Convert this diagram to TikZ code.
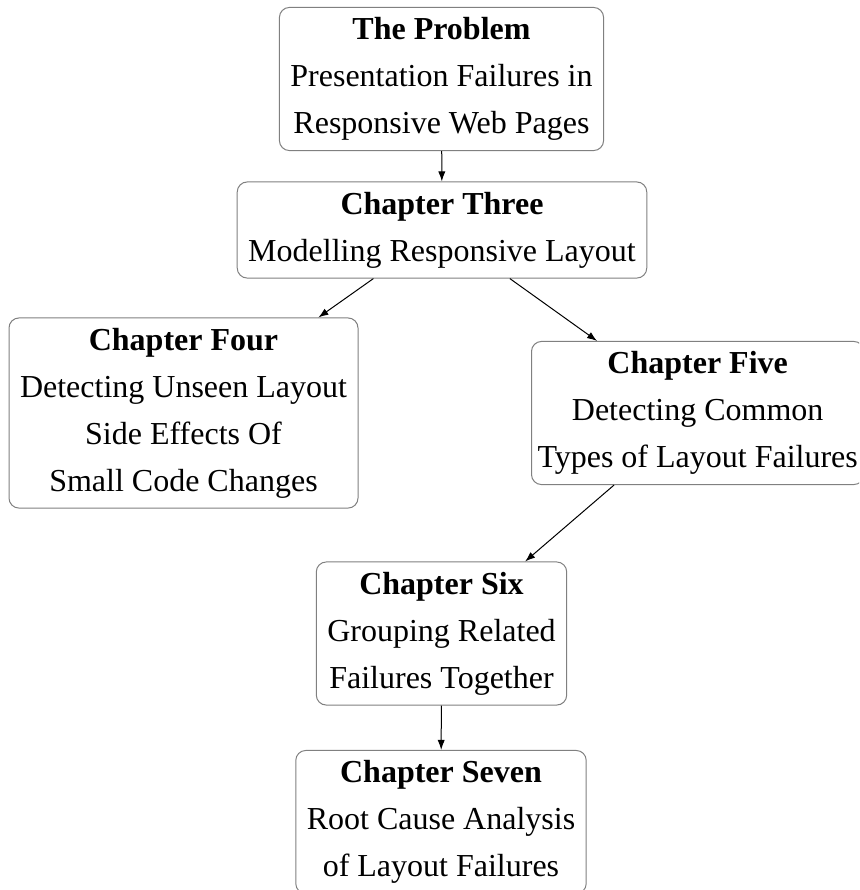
\documentclass[tikz,border=0pt]{standalone}
\usepackage{fontspec}
\setmainfont{Liberation Serif}
\usetikzlibrary{arrows.meta}

\tikzset{
  chapbox/.style={draw=black!50, line width=0.5pt, rounded corners=5pt,
    align=center, inner xsep=5.5pt, inner ysep=5pt,
    font=\fontsize{16}{23.5}\selectfont},
  flow/.style={-{Latex[length=5pt,width=3.6pt]}, line width=0.5pt, black}
}

\begin{document}
\begin{tikzpicture}[x=0.5pt, y=-0.5pt]
  \useasboundingbox (0,0) rectangle (859,890);
  \clip (0,0) rectangle (859,890);

  \node[chapbox] (prob)  at (441.5,79)   {\textbf{The Problem}\\Presentation Failures in\\Responsive Web Pages};
  \node[chapbox] (three) at (442,230)    {\textbf{Chapter Three}\\Modelling Responsive Layout};
  \node[chapbox] (four)  at (183.5,413)  {\textbf{Chapter Four}\\Detecting Unseen Layout\\Side Effects Of\\Small Code Changes};
  \node[chapbox, anchor=west, inner xsep=3pt] (five) at (531,413) {\textbf{Chapter Five}\\Detecting Common\\Types of Layout Failures};
  \node[chapbox] (six)   at (441.5,633.5) {\textbf{Chapter Six}\\Grouping Related\\Failures Together};
  \node[chapbox] (seven) at (441,822)    {\textbf{Chapter Seven}\\Root Cause Analysis\\of Layout Failures};

  \draw[flow] (prob) -- (three);
  \draw[flow] (three) -- (four);
  \draw[flow] (three) -- (five);
  \draw[flow] (five) -- (six);
  \draw[flow] (six) -- (seven);
\end{tikzpicture}
\end{document}
